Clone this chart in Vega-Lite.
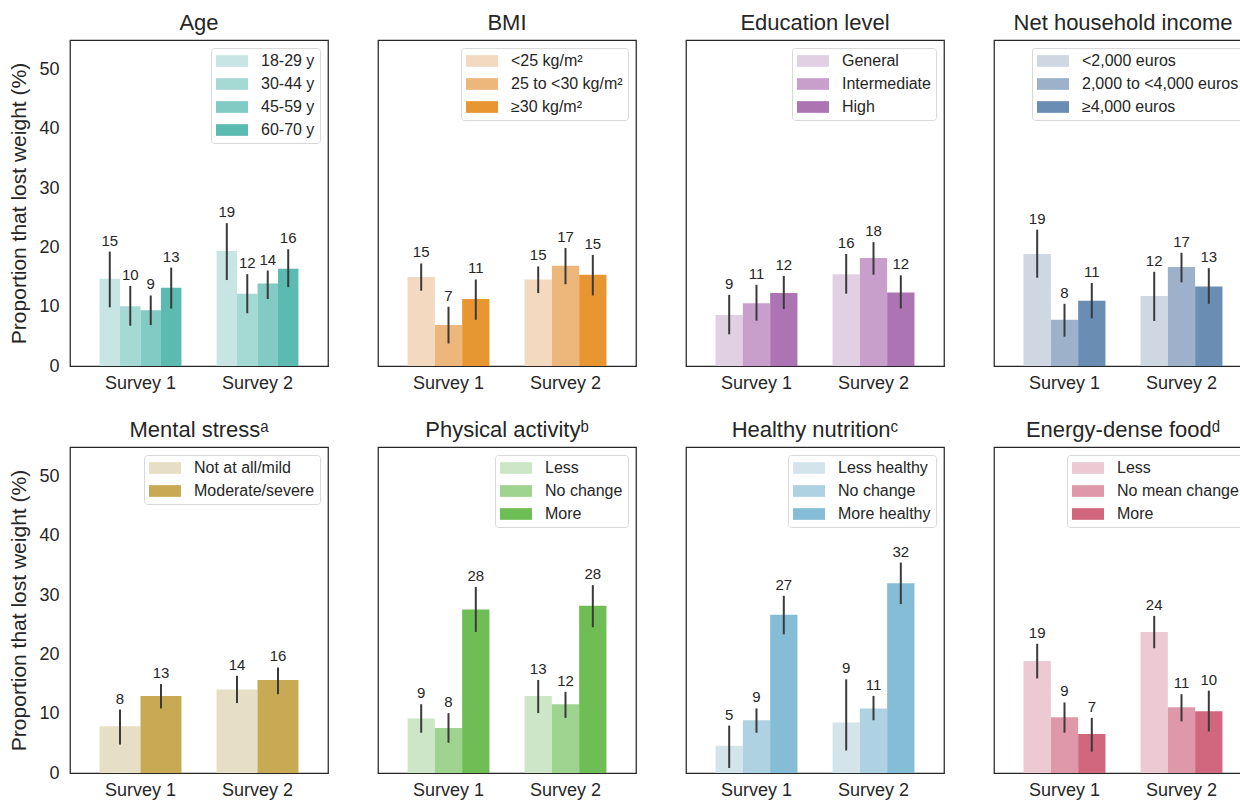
{
  "$schema": "https://vega.github.io/schema/vega-lite/v6.json",
  "padding": {"left": 8, "top": 11, "right": 0, "bottom": 5},
  "background": "white",
  "datasets": {
    "d": [
      {"panel": "Age", "survey": "Survey 1", "group": "18-29 y", "value": 14.7, "lo": 9.9, "hi": 19.3},
      {"panel": "Age", "survey": "Survey 1", "group": "30-44 y", "value": 10.1, "lo": 6.8, "hi": 13.5},
      {"panel": "Age", "survey": "Survey 1", "group": "45-59 y", "value": 9.4, "lo": 6.9, "hi": 11.9},
      {"panel": "Age", "survey": "Survey 1", "group": "60-70 y", "value": 13.2, "lo": 9.7, "hi": 16.6},
      {"panel": "Age", "survey": "Survey 2", "group": "18-29 y", "value": 19.4, "lo": 14.5, "hi": 24.1},
      {"panel": "Age", "survey": "Survey 2", "group": "30-44 y", "value": 12.2, "lo": 8.9, "hi": 15.5},
      {"panel": "Age", "survey": "Survey 2", "group": "45-59 y", "value": 13.9, "lo": 11.3, "hi": 16.1},
      {"panel": "Age", "survey": "Survey 2", "group": "60-70 y", "value": 16.4, "lo": 13.3, "hi": 19.7},

      {"panel": "BMI", "survey": "Survey 1", "group": "<25 kg/m²", "value": 15.0, "lo": 12.7, "hi": 17.3},
      {"panel": "BMI", "survey": "Survey 1", "group": "25 to <30 kg/m²", "value": 6.9, "lo": 3.8, "hi": 10.0},
      {"panel": "BMI", "survey": "Survey 1", "group": "≥30 kg/m²", "value": 11.3, "lo": 7.8, "hi": 14.6},
      {"panel": "BMI", "survey": "Survey 2", "group": "<25 kg/m²", "value": 14.6, "lo": 12.3, "hi": 16.8},
      {"panel": "BMI", "survey": "Survey 2", "group": "25 to <30 kg/m²", "value": 16.9, "lo": 13.8, "hi": 19.9},
      {"panel": "BMI", "survey": "Survey 2", "group": "≥30 kg/m²", "value": 15.4, "lo": 11.9, "hi": 18.75},

      {"panel": "Edu", "survey": "Survey 1", "group": "General", "value": 8.6, "lo": 5.35, "hi": 12.0},
      {"panel": "Edu", "survey": "Survey 1", "group": "Intermediate", "value": 10.6, "lo": 7.65, "hi": 13.7},
      {"panel": "Edu", "survey": "Survey 1", "group": "High", "value": 12.3, "lo": 9.6, "hi": 15.2},
      {"panel": "Edu", "survey": "Survey 2", "group": "General", "value": 15.5, "lo": 12.2, "hi": 18.9},
      {"panel": "Edu", "survey": "Survey 2", "group": "Intermediate", "value": 18.2, "lo": 15.4, "hi": 20.9},
      {"panel": "Edu", "survey": "Survey 2", "group": "High", "value": 12.4, "lo": 9.7, "hi": 15.3},

      {"panel": "Inc", "survey": "Survey 1", "group": "<2,000 euros", "value": 18.9, "lo": 14.9, "hi": 23.0},
      {"panel": "Inc", "survey": "Survey 1", "group": "2,000 to <4,000 euros", "value": 7.8, "lo": 4.95, "hi": 10.5},
      {"panel": "Inc", "survey": "Survey 1", "group": "≥4,000 euros", "value": 11.0, "lo": 8.05, "hi": 14.0},
      {"panel": "Inc", "survey": "Survey 2", "group": "<2,000 euros", "value": 11.8, "lo": 7.6, "hi": 15.9},
      {"panel": "Inc", "survey": "Survey 2", "group": "2,000 to <4,000 euros", "value": 16.7, "lo": 14.1, "hi": 19.1},
      {"panel": "Inc", "survey": "Survey 2", "group": "≥4,000 euros", "value": 13.4, "lo": 10.5, "hi": 16.5},

      {"panel": "Men", "survey": "Survey 1", "group": "Not at all/mild", "value": 7.9, "lo": 4.8, "hi": 10.7},
      {"panel": "Men", "survey": "Survey 1", "group": "Moderate/severe", "value": 13.0, "lo": 10.9, "hi": 15.0},
      {"panel": "Men", "survey": "Survey 2", "group": "Not at all/mild", "value": 14.1, "lo": 11.8, "hi": 16.4},
      {"panel": "Men", "survey": "Survey 2", "group": "Moderate/severe", "value": 15.7, "lo": 13.3, "hi": 17.8},

      {"panel": "PA", "survey": "Survey 1", "group": "Less", "value": 9.2, "lo": 6.8, "hi": 11.6},
      {"panel": "PA", "survey": "Survey 1", "group": "No change", "value": 7.6, "lo": 5.1, "hi": 10.1},
      {"panel": "PA", "survey": "Survey 1", "group": "More", "value": 27.6, "lo": 23.8, "hi": 31.4},
      {"panel": "PA", "survey": "Survey 2", "group": "Less", "value": 13.0, "lo": 10.1, "hi": 15.7},
      {"panel": "PA", "survey": "Survey 2", "group": "No change", "value": 11.6, "lo": 9.3, "hi": 13.7},
      {"panel": "PA", "survey": "Survey 2", "group": "More", "value": 28.2, "lo": 24.6, "hi": 31.7},

      {"panel": "Nut", "survey": "Survey 1", "group": "Less healthy", "value": 4.6, "lo": 0.85, "hi": 8.0},
      {"panel": "Nut", "survey": "Survey 1", "group": "No change", "value": 8.9, "lo": 6.8, "hi": 10.9},
      {"panel": "Nut", "survey": "Survey 1", "group": "More healthy", "value": 26.7, "lo": 23.4, "hi": 29.9},
      {"panel": "Nut", "survey": "Survey 2", "group": "Less healthy", "value": 8.5, "lo": 3.8, "hi": 15.8},
      {"panel": "Nut", "survey": "Survey 2", "group": "No change", "value": 10.9, "lo": 8.9, "hi": 13.0},
      {"panel": "Nut", "survey": "Survey 2", "group": "More healthy", "value": 32.0, "lo": 28.5, "hi": 35.5},

      {"panel": "En", "survey": "Survey 1", "group": "Less", "value": 18.9, "lo": 15.95, "hi": 21.8},
      {"panel": "En", "survey": "Survey 1", "group": "No mean change", "value": 9.4, "lo": 6.8, "hi": 11.9},
      {"panel": "En", "survey": "Survey 1", "group": "More", "value": 6.6, "lo": 3.6, "hi": 9.3},
      {"panel": "En", "survey": "Survey 2", "group": "Less", "value": 23.8, "lo": 21.05, "hi": 26.5},
      {"panel": "En", "survey": "Survey 2", "group": "No mean change", "value": 11.1, "lo": 8.7, "hi": 13.3},
      {"panel": "En", "survey": "Survey 2", "group": "More", "value": 10.4, "lo": 7.0, "hi": 13.9}
    ]
  },
  "columns": 4,
  "spacing": {"row": 81, "column": 50},
  "bounds": "flush",
  "resolve": {
    "scale": {"color": "independent", "xOffset": "independent", "x": "independent", "y": "independent"},
    "legend": {"color": "independent"},
    "axis": {"x": "independent", "y": "independent"}
  },
  "concat": [
    {
      "title": "Age", "width": 258, "height": 326,
      "data": {"name": "d"}, "transform": [{"filter": "datum.panel == 'Age'"}],
      "encoding": {
        "x": {"field": "survey", "type": "nominal", "title": null, "scale": {"paddingInner": 0.3, "paddingOuter": 0.2525}, "axis": {"labelAngle": 0, "ticks": false, "domain": false, "labelPadding": 8, "labelFontSize": 18}},
        "xOffset": {"field": "group", "type": "nominal", "scale": {"domain": ["18-29 y", "30-44 y", "45-59 y", "60-70 y"], "paddingInner": 0, "paddingOuter": 0}}
      },
      "layer": [
        {"mark": "bar", "encoding": {
          "y": {"field": "value", "type": "quantitative", "title": "Proportion that lost weight (%)", "scale": {"domain": [0, 55], "nice": false}, "axis": {"values": [0, 10, 20, 30, 40, 50], "ticks": false, "domain": false, "grid": false, "labelPadding": 11, "labelFontSize": 18, "titleFontSize": 21, "titlePadding": 9}},
          "color": {"field": "group", "type": "nominal", "scale": {"domain": ["18-29 y", "30-44 y", "45-59 y", "60-70 y"], "range": ["#c7e6e3", "#a5d9d4", "#81cbc4", "#5cbbb1"]}, "legend": {"orient": "top-right", "offset": 8, "title": null}}
        }},
        {"mark": {"type": "rule", "color": "#3a3a3a", "strokeWidth": 2}, "encoding": {
          "y": {"field": "lo", "type": "quantitative", "title": "Proportion that lost weight (%)", "scale": {"domain": [0, 55], "nice": false}, "axis": {"values": [0, 10, 20, 30, 40, 50], "ticks": false, "domain": false, "grid": false, "labelPadding": 11, "labelFontSize": 18, "titleFontSize": 21, "titlePadding": 9}},
          "y2": {"field": "hi"}
        }},
        {"mark": {"type": "text", "baseline": "bottom", "dy": -3, "fontSize": 15, "color": "#262626", "font": "Liberation Sans"}, "encoding": {
          "y": {"field": "hi", "type": "quantitative", "title": "Proportion that lost weight (%)", "scale": {"domain": [0, 55], "nice": false}, "axis": {"values": [0, 10, 20, 30, 40, 50], "ticks": false, "domain": false, "grid": false, "labelPadding": 11, "labelFontSize": 18, "titleFontSize": 21, "titlePadding": 9}},
          "text": {"field": "value", "type": "quantitative", "format": ".0f"}
        }}
      ]
    },
    {
      "title": "BMI", "width": 258, "height": 326,
      "data": {"name": "d"}, "transform": [{"filter": "datum.panel == 'BMI'"}],
      "encoding": {
        "x": {"field": "survey", "type": "nominal", "title": null, "scale": {"paddingInner": 0.3, "paddingOuter": 0.2525}, "axis": {"labelAngle": 0, "ticks": false, "domain": false, "labelPadding": 8, "labelFontSize": 18}},
        "xOffset": {"field": "group", "type": "nominal", "scale": {"domain": ["<25 kg/m²", "25 to <30 kg/m²", "≥30 kg/m²"], "paddingInner": 0, "paddingOuter": 0}}
      },
      "layer": [
        {"mark": "bar", "encoding": {
          "y": {"field": "value", "type": "quantitative", "scale": {"domain": [0, 55], "nice": false}, "axis": null},
          "color": {"field": "group", "type": "nominal", "scale": {"domain": ["<25 kg/m²", "25 to <30 kg/m²", "≥30 kg/m²"], "range": ["#f2d9bf", "#edb67a", "#e89632"]}, "legend": {"orient": "top-right", "offset": 8, "title": null}}
        }},
        {"mark": {"type": "rule", "color": "#3a3a3a", "strokeWidth": 2}, "encoding": {
          "y": {"field": "lo", "type": "quantitative", "scale": {"domain": [0, 55], "nice": false}, "axis": null},
          "y2": {"field": "hi"}
        }},
        {"mark": {"type": "text", "baseline": "bottom", "dy": -3, "fontSize": 15, "color": "#262626", "font": "Liberation Sans"}, "encoding": {
          "y": {"field": "hi", "type": "quantitative", "scale": {"domain": [0, 55], "nice": false}, "axis": null},
          "text": {"field": "value", "type": "quantitative", "format": ".0f"}
        }}
      ]
    },
    {
      "title": "Education level", "width": 258, "height": 326,
      "data": {"name": "d"}, "transform": [{"filter": "datum.panel == 'Edu'"}],
      "encoding": {
        "x": {"field": "survey", "type": "nominal", "title": null, "scale": {"paddingInner": 0.3, "paddingOuter": 0.2525}, "axis": {"labelAngle": 0, "ticks": false, "domain": false, "labelPadding": 8, "labelFontSize": 18}},
        "xOffset": {"field": "group", "type": "nominal", "scale": {"domain": ["General", "Intermediate", "High"], "paddingInner": 0, "paddingOuter": 0}}
      },
      "layer": [
        {"mark": "bar", "encoding": {
          "y": {"field": "value", "type": "quantitative", "scale": {"domain": [0, 55], "nice": false}, "axis": null},
          "color": {"field": "group", "type": "nominal", "scale": {"domain": ["General", "Intermediate", "High"], "range": ["#e1d0e3", "#c89fcb", "#ad74b4"]}, "legend": {"orient": "top-right", "offset": 8, "title": null}}
        }},
        {"mark": {"type": "rule", "color": "#3a3a3a", "strokeWidth": 2}, "encoding": {
          "y": {"field": "lo", "type": "quantitative", "scale": {"domain": [0, 55], "nice": false}, "axis": null},
          "y2": {"field": "hi"}
        }},
        {"mark": {"type": "text", "baseline": "bottom", "dy": -3, "fontSize": 15, "color": "#262626", "font": "Liberation Sans"}, "encoding": {
          "y": {"field": "hi", "type": "quantitative", "scale": {"domain": [0, 55], "nice": false}, "axis": null},
          "text": {"field": "value", "type": "quantitative", "format": ".0f"}
        }}
      ]
    },
    {
      "title": "Net household income", "width": 258, "height": 326,
      "data": {"name": "d"}, "transform": [{"filter": "datum.panel == 'Inc'"}],
      "encoding": {
        "x": {"field": "survey", "type": "nominal", "title": null, "scale": {"paddingInner": 0.3, "paddingOuter": 0.2525}, "axis": {"labelAngle": 0, "ticks": false, "domain": false, "labelPadding": 8, "labelFontSize": 18}},
        "xOffset": {"field": "group", "type": "nominal", "scale": {"domain": ["<2,000 euros", "2,000 to <4,000 euros", "≥4,000 euros"], "paddingInner": 0, "paddingOuter": 0}}
      },
      "layer": [
        {"mark": "bar", "encoding": {
          "y": {"field": "value", "type": "quantitative", "scale": {"domain": [0, 55], "nice": false}, "axis": null},
          "color": {"field": "group", "type": "nominal", "scale": {"domain": ["<2,000 euros", "2,000 to <4,000 euros", "≥4,000 euros"], "range": ["#cfd7e2", "#9eb1cb", "#6a8db4"]}, "legend": {"orient": "top-right", "offset": 8, "title": null}}
        }},
        {"mark": {"type": "rule", "color": "#3a3a3a", "strokeWidth": 2}, "encoding": {
          "y": {"field": "lo", "type": "quantitative", "scale": {"domain": [0, 55], "nice": false}, "axis": null},
          "y2": {"field": "hi"}
        }},
        {"mark": {"type": "text", "baseline": "bottom", "dy": -3, "fontSize": 15, "color": "#262626", "font": "Liberation Sans"}, "encoding": {
          "y": {"field": "hi", "type": "quantitative", "scale": {"domain": [0, 55], "nice": false}, "axis": null},
          "text": {"field": "value", "type": "quantitative", "format": ".0f"}
        }}
      ]
    },
    {
      "title": "Mental stressᵃ", "width": 258, "height": 326,
      "data": {"name": "d"}, "transform": [{"filter": "datum.panel == 'Men'"}],
      "encoding": {
        "x": {"field": "survey", "type": "nominal", "title": null, "scale": {"paddingInner": 0.3, "paddingOuter": 0.2525}, "axis": {"labelAngle": 0, "ticks": false, "domain": false, "labelPadding": 8, "labelFontSize": 18}},
        "xOffset": {"field": "group", "type": "nominal", "scale": {"domain": ["Not at all/mild", "Moderate/severe"], "paddingInner": 0, "paddingOuter": 0}}
      },
      "layer": [
        {"mark": "bar", "encoding": {
          "y": {"field": "value", "type": "quantitative", "title": "Proportion that lost weight (%)", "scale": {"domain": [0, 55], "nice": false}, "axis": {"values": [0, 10, 20, 30, 40, 50], "ticks": false, "domain": false, "grid": false, "labelPadding": 11, "labelFontSize": 18, "titleFontSize": 21, "titlePadding": 9}},
          "color": {"field": "group", "type": "nominal", "scale": {"domain": ["Not at all/mild", "Moderate/severe"], "range": ["#e6dec5", "#c8a954"]}, "legend": {"orient": "top-right", "offset": 8, "title": null}}
        }},
        {"mark": {"type": "rule", "color": "#3a3a3a", "strokeWidth": 2}, "encoding": {
          "y": {"field": "lo", "type": "quantitative", "title": "Proportion that lost weight (%)", "scale": {"domain": [0, 55], "nice": false}, "axis": {"values": [0, 10, 20, 30, 40, 50], "ticks": false, "domain": false, "grid": false, "labelPadding": 11, "labelFontSize": 18, "titleFontSize": 21, "titlePadding": 9}},
          "y2": {"field": "hi"}
        }},
        {"mark": {"type": "text", "baseline": "bottom", "dy": -3, "fontSize": 15, "color": "#262626", "font": "Liberation Sans"}, "encoding": {
          "y": {"field": "hi", "type": "quantitative", "title": "Proportion that lost weight (%)", "scale": {"domain": [0, 55], "nice": false}, "axis": {"values": [0, 10, 20, 30, 40, 50], "ticks": false, "domain": false, "grid": false, "labelPadding": 11, "labelFontSize": 18, "titleFontSize": 21, "titlePadding": 9}},
          "text": {"field": "value", "type": "quantitative", "format": ".0f"}
        }}
      ]
    },
    {
      "title": "Physical activityᵇ", "width": 258, "height": 326,
      "data": {"name": "d"}, "transform": [{"filter": "datum.panel == 'PA'"}],
      "encoding": {
        "x": {"field": "survey", "type": "nominal", "title": null, "scale": {"paddingInner": 0.3, "paddingOuter": 0.2525}, "axis": {"labelAngle": 0, "ticks": false, "domain": false, "labelPadding": 8, "labelFontSize": 18}},
        "xOffset": {"field": "group", "type": "nominal", "scale": {"domain": ["Less", "No change", "More"], "paddingInner": 0, "paddingOuter": 0}}
      },
      "layer": [
        {"mark": "bar", "encoding": {
          "y": {"field": "value", "type": "quantitative", "scale": {"domain": [0, 55], "nice": false}, "axis": null},
          "color": {"field": "group", "type": "nominal", "scale": {"domain": ["Less", "No change", "More"], "range": ["#cde6c7", "#9fd390", "#6fbe55"]}, "legend": {"orient": "top-right", "offset": 8, "title": null}}
        }},
        {"mark": {"type": "rule", "color": "#3a3a3a", "strokeWidth": 2}, "encoding": {
          "y": {"field": "lo", "type": "quantitative", "scale": {"domain": [0, 55], "nice": false}, "axis": null},
          "y2": {"field": "hi"}
        }},
        {"mark": {"type": "text", "baseline": "bottom", "dy": -3, "fontSize": 15, "color": "#262626", "font": "Liberation Sans"}, "encoding": {
          "y": {"field": "hi", "type": "quantitative", "scale": {"domain": [0, 55], "nice": false}, "axis": null},
          "text": {"field": "value", "type": "quantitative", "format": ".0f"}
        }}
      ]
    },
    {
      "title": "Healthy nutritionᶜ", "width": 258, "height": 326,
      "data": {"name": "d"}, "transform": [{"filter": "datum.panel == 'Nut'"}],
      "encoding": {
        "x": {"field": "survey", "type": "nominal", "title": null, "scale": {"paddingInner": 0.3, "paddingOuter": 0.2525}, "axis": {"labelAngle": 0, "ticks": false, "domain": false, "labelPadding": 8, "labelFontSize": 18}},
        "xOffset": {"field": "group", "type": "nominal", "scale": {"domain": ["Less healthy", "No change", "More healthy"], "paddingInner": 0, "paddingOuter": 0}}
      },
      "layer": [
        {"mark": "bar", "encoding": {
          "y": {"field": "value", "type": "quantitative", "scale": {"domain": [0, 55], "nice": false}, "axis": null},
          "color": {"field": "group", "type": "nominal", "scale": {"domain": ["Less healthy", "No change", "More healthy"], "range": ["#d3e4eb", "#aed2e1", "#84bdd5"]}, "legend": {"orient": "top-right", "offset": 8, "title": null}}
        }},
        {"mark": {"type": "rule", "color": "#3a3a3a", "strokeWidth": 2}, "encoding": {
          "y": {"field": "lo", "type": "quantitative", "scale": {"domain": [0, 55], "nice": false}, "axis": null},
          "y2": {"field": "hi"}
        }},
        {"mark": {"type": "text", "baseline": "bottom", "dy": -3, "fontSize": 15, "color": "#262626", "font": "Liberation Sans"}, "encoding": {
          "y": {"field": "hi", "type": "quantitative", "scale": {"domain": [0, 55], "nice": false}, "axis": null},
          "text": {"field": "value", "type": "quantitative", "format": ".0f"}
        }}
      ]
    },
    {
      "title": "Energy-dense foodᵈ", "width": 258, "height": 326,
      "data": {"name": "d"}, "transform": [{"filter": "datum.panel == 'En'"}],
      "encoding": {
        "x": {"field": "survey", "type": "nominal", "title": null, "scale": {"paddingInner": 0.3, "paddingOuter": 0.2525}, "axis": {"labelAngle": 0, "ticks": false, "domain": false, "labelPadding": 8, "labelFontSize": 18}},
        "xOffset": {"field": "group", "type": "nominal", "scale": {"domain": ["Less", "No mean change", "More"], "paddingInner": 0, "paddingOuter": 0}}
      },
      "layer": [
        {"mark": "bar", "encoding": {
          "y": {"field": "value", "type": "quantitative", "scale": {"domain": [0, 55], "nice": false}, "axis": null},
          "color": {"field": "group", "type": "nominal", "scale": {"domain": ["Less", "No mean change", "More"], "range": ["#edcad3", "#de98a9", "#d0677f"]}, "legend": {"orient": "top-right", "offset": 8, "title": null}}
        }},
        {"mark": {"type": "rule", "color": "#3a3a3a", "strokeWidth": 2}, "encoding": {
          "y": {"field": "lo", "type": "quantitative", "scale": {"domain": [0, 55], "nice": false}, "axis": null},
          "y2": {"field": "hi"}
        }},
        {"mark": {"type": "text", "baseline": "bottom", "dy": -3, "fontSize": 15, "color": "#262626", "font": "Liberation Sans"}, "encoding": {
          "y": {"field": "hi", "type": "quantitative", "scale": {"domain": [0, 55], "nice": false}, "axis": null},
          "text": {"field": "value", "type": "quantitative", "format": ".0f"}
        }}
      ]
    }
  ],
  "config": {
    "font": "Liberation Sans",
    "view": {"stroke": "#262626", "strokeWidth": 1.25},
    "title": {"fontSize": 22, "fontWeight": "normal", "color": "#262626", "font": "Liberation Sans", "offset": 5},
    "axis": {"labelFont": "Liberation Sans", "titleFont": "Liberation Sans", "labelColor": "#262626", "titleColor": "#262626", "titleFontWeight": "normal", "grid": false},
    "legend": {
      "labelFont": "Liberation Sans", "labelFontSize": 16, "labelColor": "#262626",
      "padding": 5, "strokeColor": "#d9d9d9", "fillColor": "white", "cornerRadius": 3,
      "symbolType": "M-1,-0.73H3V0.73H-1Z", "symbolSize": 256, "symbolStrokeWidth": 0, "symbolOpacity": 1,
      "labelOffset": 29, "rowPadding": 7
    },
    "bar": {"stroke": null}
  }
}
